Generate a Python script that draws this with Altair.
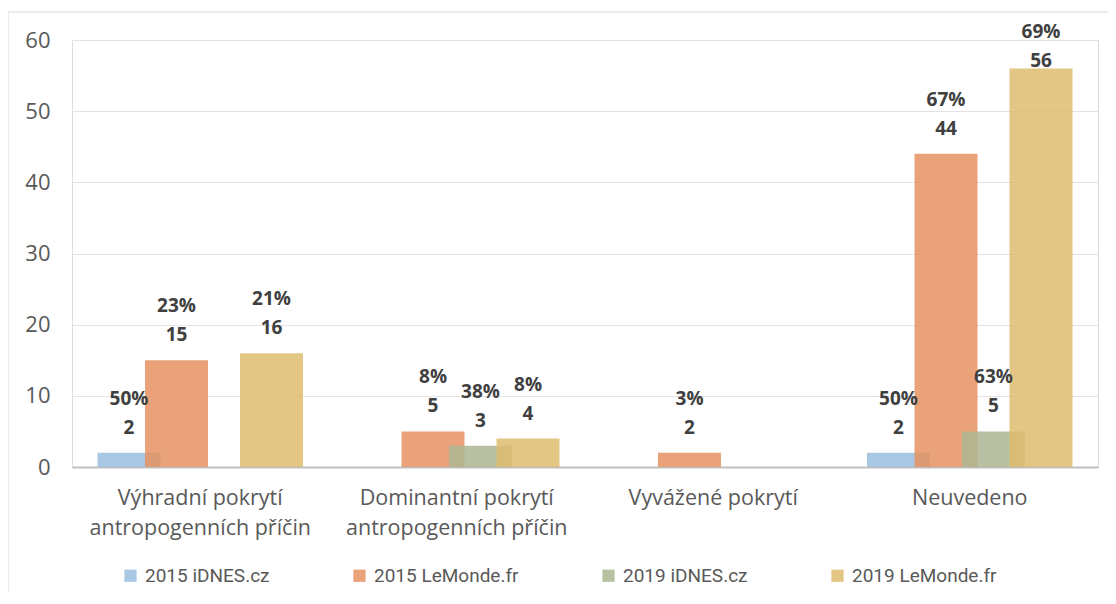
import altair as alt
import pandas as pd

categories = [
    "Výhradní pokrytí\nantropogenních příčin",
    "Dominantní pokrytí\nantropogenních příčin",
    "Vyvážené pokrytí",
    "Neuvedeno",
]
series = ["2015 iDNES.cz", "2015 LeMonde.fr", "2019 iDNES.cz", "2019 LeMonde.fr"]
colors = ["#9ABEDE", "#E59262", "#ACB793", "#DEBB6F"]

# values per series (None = no bar)
idnes_2015 = [2, None, None, 2]
lemonde_2015 = [15, 5, 2, 44]
idnes_2019 = [None, 3, None, 5]
lemonde_2019 = [16, 4, None, 56]

pct_idnes_2015 = ["50%", None, None, "50%"]
pct_lemonde_2015 = ["23%", "8%", "3%", "67%"]
pct_idnes_2019 = [None, "38%", None, "63%"]
pct_lemonde_2019 = ["21%", "8%", None, "69%"]

rows = []
for s, vals, pcts in zip(
    series,
    [idnes_2015, lemonde_2015, idnes_2019, lemonde_2019],
    [pct_idnes_2015, pct_lemonde_2015, pct_idnes_2019, pct_lemonde_2019],
):
    for c, v, p in zip(categories, vals, pcts):
        if v is not None:
            rows.append({"category": c, "series": s, "value": v, "pct": p})
df = pd.DataFrame(rows)

FONT = "Open Sans"
PLOT_W, PLOT_H = 1026, 427

x_scale = alt.Scale(domain=categories, paddingInner=0, paddingOuter=0)
x_enc = alt.X(
    "category:N",
    sort=categories,
    scale=x_scale,
    axis=alt.Axis(
        title=None,
        labelAngle=0,
        labelExpr="split(datum.label, '\\n')",
        labelFont=FONT,
        labelFontSize=21.5,
        labelColor="#595959",
        labelLineHeight=30,
        labelPadding=20,
        labelBaseline="top",
        labelLimit=0,
        ticks=False,
        domainColor="#BFBFBF",
        domainWidth=2,
        grid=False,
    ),
)
xoff = alt.XOffset(
    "series:N",
    sort=series,
    scale=alt.Scale(domain=series, paddingInner=0, paddingOuter=0.7),
)
y_scale = alt.Scale(domain=[0, 60])

bars = alt.Chart(df).mark_bar(width=63, opacity=0.85).encode(
    x=x_enc,
    xOffset=xoff,
    y=alt.Y(
        "value:Q",
        scale=y_scale,
        axis=alt.Axis(
            title=None,
            values=[0, 10, 20, 30, 40, 50, 60],
            labelFont=FONT,
            labelFontSize=22,
            labelColor="#595959",
            labelPadding=22,
            ticks=False,
            domain=False,
            gridColor="#E3E3E3",
            gridWidth=1,
        ),
    ),
    color=alt.Color(
        "series:N",
        sort=series,
        scale=alt.Scale(domain=series, range=colors),
        legend=alt.Legend(
            title=None,
            orient="none",
            legendX=49,
            legendY=526,
            direction="horizontal",
            columns=4,
            columnPadding=80,
            symbolType="square",
            symbolSize=150,
            symbolOpacity=0.85,
            symbolStrokeWidth=0,
            labelFont="Roboto",
            labelFontSize=19,
            labelColor="#595959",
            labelOffset=5,
            labelLimit=0,
        ),
    ),
    order=alt.Order("series_idx:Q"),
).transform_calculate(
    series_idx="indexof(['2015 iDNES.cz','2015 LeMonde.fr','2019 iDNES.cz','2019 LeMonde.fr'], datum.series)"
)

label_base = alt.Chart(df).transform_calculate(
    label_y="min(datum.value, 53.5)"
)

num_labels = label_base.mark_text(
    font=FONT, fontSize=19, fontWeight="bold", color="#404040",
    baseline="middle", align="center", dy=-25,
).encode(
    x=alt.X("category:N", sort=categories, scale=x_scale),
    xOffset=xoff,
    y=alt.Y("label_y:Q", scale=y_scale),
    text="value:Q",
)

pct_labels = label_base.mark_text(
    font=FONT, fontSize=19, fontWeight="bold", color="#404040",
    baseline="middle", align="center", dy=-54,
).encode(
    x=alt.X("category:N", sort=categories, scale=x_scale),
    xOffset=xoff,
    y=alt.Y("label_y:Q", scale=y_scale),
    text="pct:N",
)

frame_top = alt.Chart(pd.DataFrame({"a": [0]})).mark_rule(color="#D9D9D9", strokeWidth=1).encode(
    x=alt.value(-64), x2=alt.value(PLOT_W + 10), y=alt.value(-28)
)
frame_left = alt.Chart(pd.DataFrame({"a": [0]})).mark_rule(color="#D9D9D9", strokeWidth=1).encode(
    x=alt.value(-64), y=alt.value(-28), y2=alt.value(PLOT_H + 125)
)

chart = alt.layer(bars, num_labels, pct_labels, frame_top, frame_left).properties(
    width=PLOT_W,
    height=PLOT_H,
    autosize=alt.AutoSizeParams(type="none"),
    padding={"left": 64, "top": 32, "right": 10, "bottom": 126},
).configure_view(stroke=None).configure(background="white")

chart.save("out.html", embed_options={"renderer": "svg", "actions": False})
